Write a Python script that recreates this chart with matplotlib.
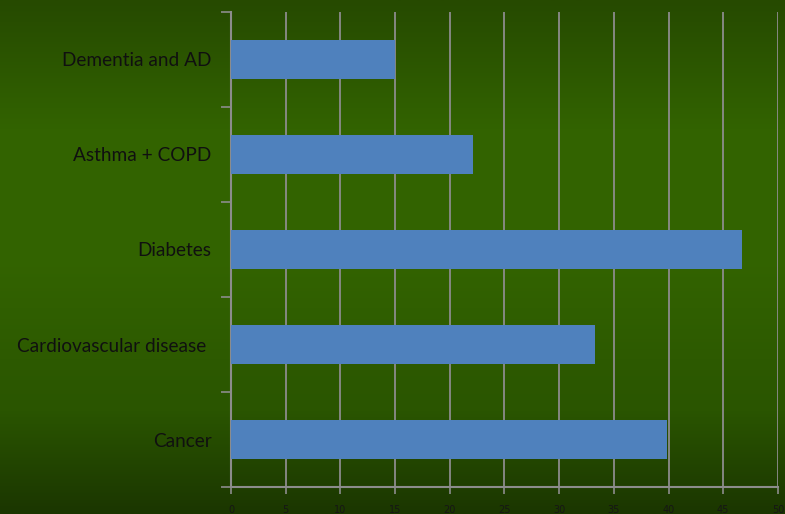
import matplotlib.pyplot as plt
import numpy as np
from matplotlib.colors import LinearSegmentedColormap

categories = ["Cancer", "Cardiovascular disease ", "Diabetes", "Asthma + COPD", "Dementia and AD"]
values = [39.9, 33.3, 46.7, 22.1, 15.0]
xticks = [0, 5, 10, 15, 20, 25, 30, 35, 40, 45, 50]

fig = plt.figure(figsize=(7.85, 5.14), dpi=100)

# green gradient behind everything
bg = fig.add_axes([0, 0, 1, 1], zorder=0)
cmap = LinearSegmentedColormap.from_list(
    "bg", [(0.0, "#264a00"), (0.25, "#326300"), (0.5, "#336400"),
           (0.8, "#2a5500"), (1.0, "#1b3600")])
grad = np.linspace(0, 1, 256).reshape(-1, 1)
bg.imshow(grad, aspect="auto", cmap=cmap, extent=[0, 1, 0, 1], origin="upper")
bg.axis("off")

ax = fig.add_axes([0.2943, 0.0525, 0.6967, 0.9242], zorder=1)
ax.patch.set_alpha(0)

y = np.arange(len(categories))
ax.barh(y, values, height=0.41, color="#4f81bd", zorder=3)

ax.set_xlim(0, 50)
ax.set_ylim(-0.5, len(categories) - 0.5)
ax.set_xticks(xticks)
ax.set_xticklabels([str(t) for t in xticks], fontsize=7, color="#161616")
ax.set_yticks(y)
ax.set_yticklabels(categories, fontsize=13.7, color="#101010", family="Lato")
ax.set_yticks(np.arange(-0.5, len(categories), 1), minor=True)

ax.tick_params(axis="y", which="major", length=0, pad=14)
ax.tick_params(axis="y", which="minor", length=7, width=1.2, color="#8c8c8c", direction="out")
ax.tick_params(axis="x", length=5, width=1.2, color="#8c8c8c", direction="out", pad=8)

ax.grid(axis="x", color="#8c8c8c", linewidth=1.3, zorder=0)
ax.set_axisbelow(True)

for s in ["top", "right"]:
    ax.spines[s].set_visible(False)
for s in ["left", "bottom"]:
    ax.spines[s].set_color("#8c8c8c")
    ax.spines[s].set_linewidth(1.5)

fig.savefig("out.png", dpi=100)
